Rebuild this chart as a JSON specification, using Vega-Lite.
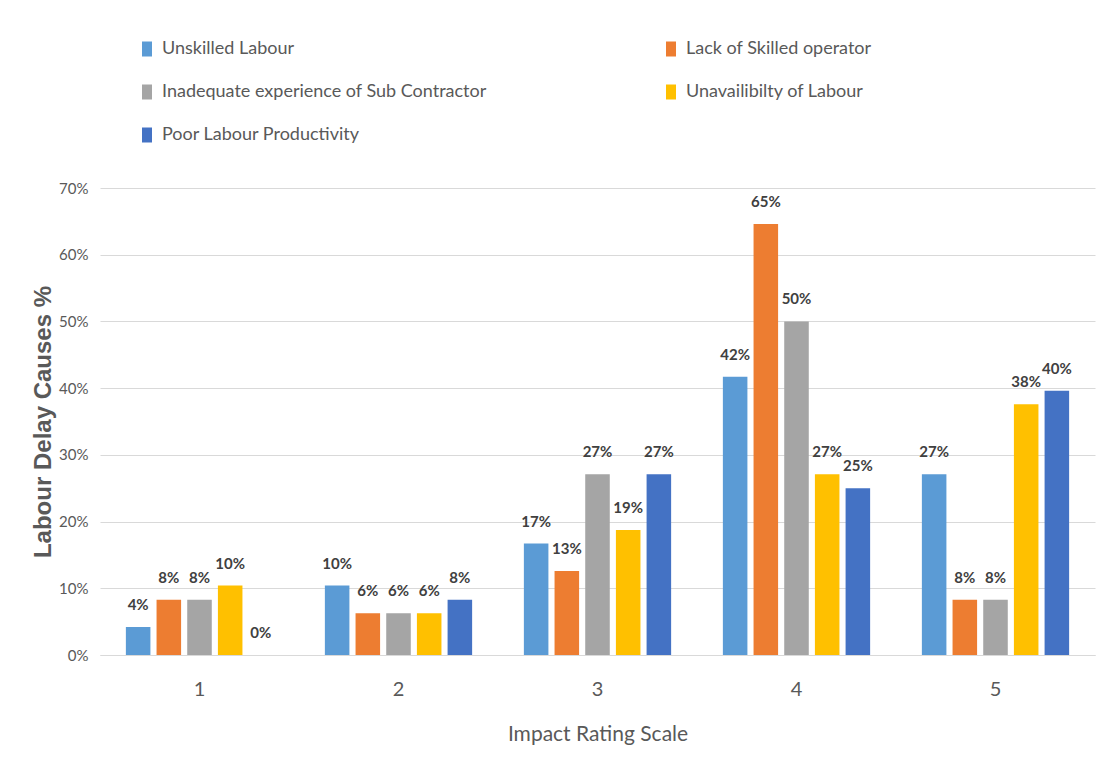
{
  "$schema": "https://vega.github.io/schema/vega-lite/v6.json",
  "width": 995,
  "height": 467,
  "autosize": {"type": "none"},
  "padding": {"left": 100, "top": 188, "right": 14, "bottom": 118},
  "background": "white",
  "config": {
    "view": {"stroke": null},
    "font": "Lato"
  },
  "data": {
    "values": [
      {"rating": "1", "cause": "Unskilled Labour", "value": 0.042},
      {"rating": "1", "cause": "Lack of Skilled operator", "value": 0.083},
      {"rating": "1", "cause": "Inadequate experience of Sub Contractor", "value": 0.083},
      {"rating": "1", "cause": "Unavailibilty of Labour", "value": 0.104},
      {"rating": "1", "cause": "Poor Labour Productivity", "value": 0.0},
      {"rating": "2", "cause": "Unskilled Labour", "value": 0.104},
      {"rating": "2", "cause": "Lack of Skilled operator", "value": 0.0625},
      {"rating": "2", "cause": "Inadequate experience of Sub Contractor", "value": 0.0625},
      {"rating": "2", "cause": "Unavailibilty of Labour", "value": 0.0625},
      {"rating": "2", "cause": "Poor Labour Productivity", "value": 0.083},
      {"rating": "3", "cause": "Unskilled Labour", "value": 0.167},
      {"rating": "3", "cause": "Lack of Skilled operator", "value": 0.126},
      {"rating": "3", "cause": "Inadequate experience of Sub Contractor", "value": 0.271},
      {"rating": "3", "cause": "Unavailibilty of Labour", "value": 0.1875},
      {"rating": "3", "cause": "Poor Labour Productivity", "value": 0.271},
      {"rating": "4", "cause": "Unskilled Labour", "value": 0.417},
      {"rating": "4", "cause": "Lack of Skilled operator", "value": 0.646},
      {"rating": "4", "cause": "Inadequate experience of Sub Contractor", "value": 0.5},
      {"rating": "4", "cause": "Unavailibilty of Labour", "value": 0.271},
      {"rating": "4", "cause": "Poor Labour Productivity", "value": 0.25},
      {"rating": "5", "cause": "Unskilled Labour", "value": 0.271},
      {"rating": "5", "cause": "Lack of Skilled operator", "value": 0.083},
      {"rating": "5", "cause": "Inadequate experience of Sub Contractor", "value": 0.083},
      {"rating": "5", "cause": "Unavailibilty of Labour", "value": 0.376},
      {"rating": "5", "cause": "Poor Labour Productivity", "value": 0.396}
    ]
  },
  "encoding": {
    "x": {
      "field": "rating",
      "type": "nominal",
      "scale": {"paddingInner": 0.26, "paddingOuter": 0.13},
      "title": "Impact Rating Scale",
      "axis": {
        "labelAngle": 0,
        "domain": true,
        "domainColor": "#d9d9d9",
        "ticks": false,
        "labelFontSize": 20,
        "labelColor": "#595959",
        "labelBaseline": "alphabetic",
        "labelPadding": 40,
        "titleFontSize": 21,
        "titleFontWeight": "normal",
        "titleColor": "#595959",
        "titleBaseline": "alphabetic",
        "titleY": 85
      }
    },
    "xOffset": {
      "field": "cause",
      "type": "nominal",
      "sort": ["Unskilled Labour", "Lack of Skilled operator", "Inadequate experience of Sub Contractor", "Unavailibilty of Labour", "Poor Labour Productivity"],
      "scale": {"paddingInner": 0.2}
    },
    "y": {
      "field": "value",
      "type": "quantitative",
      "scale": {"domain": [0, 0.7]},
      "title": "Labour Delay Causes %",
      "axis": {
        "format": ".0%",
        "values": [0, 0.1, 0.2, 0.3, 0.4, 0.5, 0.6, 0.7],
        "grid": true,
        "gridColor": "#d9d9d9",
        "domain": false,
        "ticks": false,
        "labelPadding": 12,
        "labelFontSize": 15,
        "labelColor": "#595959",
        "titleFont": "Liberation Sans",
        "titleFontSize": 24,
        "titleFontWeight": "bold",
        "titleColor": "#595959",
        "titleAngle": -90,
        "titleX": -50,
        "titleY": 233.5,
        "titleAlign": "center",
        "titleBaseline": "alphabetic"
      }
    }
  },
  "layer": [
    {
      "mark": {"type": "bar"},
      "encoding": {
        "color": {
          "field": "cause",
          "type": "nominal",
          "scale": {
            "domain": ["Unskilled Labour", "Inadequate experience of Sub Contractor", "Poor Labour Productivity", "Lack of Skilled operator", "Unavailibilty of Labour"],
            "range": ["#5B9BD5", "#A5A5A5", "#4472C4", "#ED7D31", "#FFC000"]
          },
          "legend": {
            "title": null,
            "orient": "none",
            "legendX": 38,
            "legendY": -148,
            "columns": 2,
            "columnPadding": 175,
            "rowPadding": 25,
            "padding": 0,
            "symbolType": "M-0.67,-1H0.67V1H-0.67Z",
            "symbolSize": 225,
            "symbolStrokeWidth": 0,
            "labelOffset": 6,
            "labelFontSize": 18,
            "labelColor": "#595959",
            "labelLimit": 500
          }
        }
      }
    },
    {
      "mark": {"type": "text", "dy": -22, "baseline": "middle", "fontWeight": "bold", "fontSize": 15, "color": "#404040"},
      "encoding": {
        "text": {"field": "value", "type": "quantitative", "format": ".0%"}
      }
    }
  ]
}
